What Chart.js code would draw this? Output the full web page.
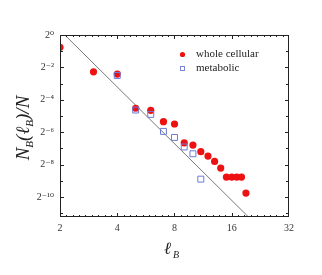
<!DOCTYPE html>
<html>
<head>
<meta charset="utf-8">
<script src="https://cdn.jsdelivr.net/npm/chart.js@4/dist/chart.umd.min.js"></script>
<style>
html,body{margin:0;padding:0;background:#fff;}
</style>
</head>
<body>
<canvas id="canvas" width="322" height="275"></canvas>
<script>
// box sizes l_B and fraction N_B(l_B)/N
var lbWhole=[2,3,4,5,6,7,8,9,10,11,12,13,14,15,16,17,18,19];
var whole=[0.590,0.207,0.188,0.0436,0.0398,0.0245,0.0222,0.00995,0.00903,0.00680,0.00564,0.00449,0.00337,0.00229,0.00229,0.00229,0.00229,0.00116];
var lbMeta=[4,5,6,7,8,9,10,11];
var meta=[0.177,0.0404,0.0335,0.0162,0.0125,0.00832,0.00622,0.00210];
// straight guide line (end points)
var fitX=[2.12,19.6];
var fitY=[1,0.000416];

var xTicks=[2,4,8,16,32];
var xTickLabels=["2","4","8","16","32"];
var yTicks=[1,0.25,0.0625,0.015625,0.00390625,0.0009765625];
var yTickLabels=["2\u2070","2\u207B\u00B2","2\u207B\u2074","2\u207B\u2076","2\u207B\u2078","2\u207B\u00B9\u2070"];

function pts(xs,ys){
  var r=[];
  for(var i=0;i<xs.length;i++) r.push({x:xs[i],y:ys[i]});
  return r;
}

var serif="'Liberation Serif','DejaVu Serif',serif";

var frame={
  id:"frame",
  afterDraw:function(chart){
    var c=chart.ctx, a=chart.chartArea, sx=chart.scales.x, sy=chart.scales.y;
    c.save();
    c.strokeStyle="#222";
    c.lineWidth=1;
    c.strokeRect(a.left+0.5,a.top+0.5,a.right-a.left-1,a.bottom-a.top-1);
    c.beginPath();
    // x ticks (inward, bottom and top)
    for(var k=1;k<5;k++){
      for(var j=0;j<9;j++){
        var v=Math.pow(2,k+j/9);
        var px=Math.round(sx.getPixelForValue(v))+0.5;
        var len=j==0?4:2;
        c.moveTo(px,a.bottom);c.lineTo(px,a.bottom-len);
        c.moveTo(px,a.top);c.lineTo(px,a.top+len);
      }
    }
    // y ticks (inward, left and right)
    for(var e=0;e<=11;e++){
      var py=Math.round(sy.getPixelForValue(Math.pow(2,-e)))+0.5;
      var ly=e%2==0?4:3;
      c.moveTo(a.left,py);c.lineTo(a.left+ly,py);
      c.moveTo(a.right,py);c.lineTo(a.right-ly,py);
    }
    c.stroke();

    // legend
    c.fillStyle="#ee1111";
    c.beginPath();c.arc(182.5,54.5,2.6,0,Math.PI*2);c.fill();
    c.strokeStyle="#7a86d8";
    c.strokeRect(180.5,66.5,4,4);
    c.fillStyle="#222";
    c.font="11px "+serif;
    c.textBaseline="middle";
    c.fillText("whole cellular",196,54.5);
    c.fillText("metabolic",196,68.5);

    // x title: l_B
    c.font="italic 17px "+serif;
    c.textBaseline="alphabetic";
    c.fillText("\u2113",164,254);
    c.font="italic 10px "+serif;
    c.fillText("B",173,258);

    // y title: N_B(l_B)/N
    c.translate(29,128);
    c.rotate(-Math.PI/2);
    var parts=[["N",0],["B",1],["(\u2113",0],["B",1],[")/N",0]];
    var w=0;
    for(var i=0;i<parts.length;i++){
      c.font=parts[i][1]?"italic 11px "+serif:"italic 19px "+serif;
      w+=c.measureText(parts[i][0]).width;
    }
    var x0=-w/2;
    for(var i=0;i<parts.length;i++){
      c.font=parts[i][1]?"italic 11px "+serif:"italic 19px "+serif;
      c.fillText(parts[i][0],x0,parts[i][1]?4:0);
      x0+=c.measureText(parts[i][0]).width;
    }
    c.restore();
  }
};

var config={
  type:"scatter",
  data:{
    datasets:[
      {
        label:"metabolic",
        data:pts(lbMeta,meta),
        pointStyle:"rect",
        pointRadius:4.2,
        pointBackgroundColor:"rgba(0,0,0,0)",
        pointBorderColor:"#6c7bd6",
        pointBorderWidth:1,
        clip:0
      },
      {
        label:"whole cellular",
        data:pts(lbWhole,whole),
        pointRadius:3.6,
        pointBackgroundColor:"#ee1111",
        pointBorderColor:"#ee1111",
        pointBorderWidth:0,
        clip:0
      },
      {
        label:"fit",
        data:pts(fitX,fitY),
        showLine:true,
        borderColor:"#555",
        borderWidth:0.8,
        pointRadius:0,
        clip:0
      }
    ]
  },
  options:{
    responsive:false,
    animation:false,
    layout:{padding:{top:35,right:33,left:0,bottom:0}},
    plugins:{legend:{display:false},tooltip:{enabled:false}},
    scales:{
      x:{
        type:"logarithmic",
        min:2,max:32,
        grid:{display:false,drawTicks:false},
        border:{display:false},
        afterBuildTicks:function(s){s.ticks=xTicks.map(function(v){return {value:v};});},
        afterFit:function(s){s.height=58;},
        ticks:{
          autoSkip:false,maxRotation:0,padding:5,color:"#333",
          font:{family:serif,size:10},
          callback:function(v,i){return xTickLabels[i];}
        }
      },
      y:{
        type:"logarithmic",
        min:0.000416,max:1,
        grid:{display:false,drawTicks:false},
        border:{display:false},
        afterBuildTicks:function(s){s.ticks=yTicks.map(function(v){return {value:v};});},
        afterFit:function(s){s.width=60;},
        ticks:{
          autoSkip:false,padding:6,color:"#333",
          font:{family:serif,size:10},
          callback:function(v,i){return yTickLabels[i];}
        }
      }
    }
  },
  plugins:[frame]
};

window.onload=function(){
  var ctx=document.getElementById("canvas").getContext("2d");
  window.graph1=new Chart(ctx,config);
};
</script>
</body>
</html>
